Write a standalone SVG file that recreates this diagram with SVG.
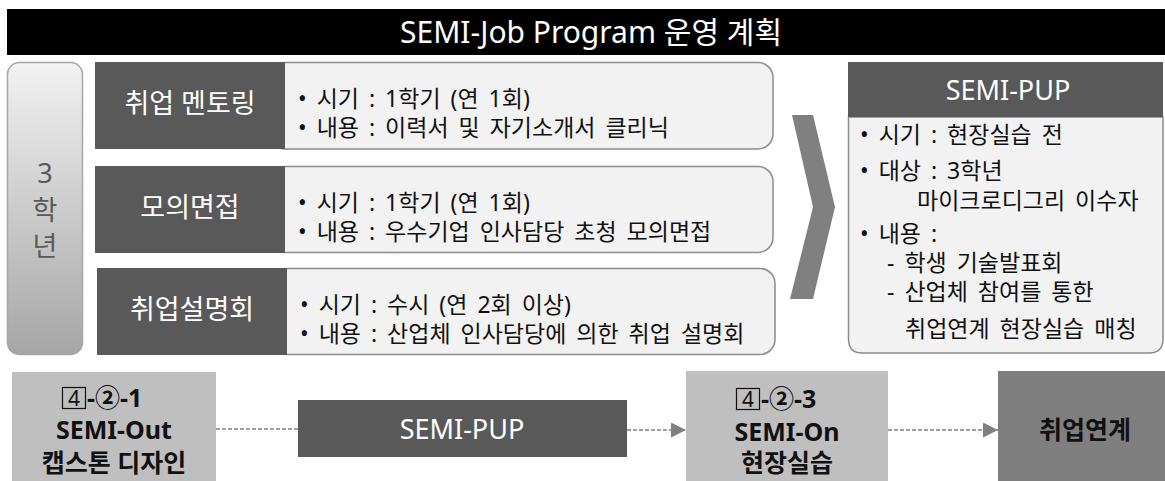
<svg xmlns="http://www.w3.org/2000/svg" width="1165" height="481" viewBox="0 0 1165 481">
<defs>
<linearGradient id="gradL" x1="0" y1="0" x2="0" y2="1">
<stop offset="0" stop-color="#f2f2f2"/>
<stop offset="1" stop-color="#a6a6a6"/>
</linearGradient>
<marker id="arr" viewBox="0 0 10 10" refX="10" refY="5" markerWidth="15" markerHeight="15" markerUnits="userSpaceOnUse" orient="auto">
<path d="M0,0 L10,5 L0,10 Z" fill="#808080"/>
</marker>
</defs>
<style>
text{font-family:"Noto Sans","Noto Sans CJK KR",sans-serif;}
.title{fill:#fff;font-size:30px;text-anchor:middle;}
.lab{fill:#fff;font-size:27px;text-anchor:middle;}
.body{fill:#111;font-size:23px;word-spacing:4px;}
.dark{fill:#595959;}
.light{fill:#f2f2f2;stroke:#8c8c8c;stroke-width:1.5;}
.gbox{fill:#bfbfbf;}
.btxt{fill:#111;font-size:25px;font-weight:bold;text-anchor:middle;}
.conn{stroke:#808080;stroke-width:1.5;stroke-dasharray:4 2;fill:none;}
</style>
<g id="title">
<rect x="7" y="9" width="1158" height="46" fill="#000"/>
<text class="title" x="591" y="43">SEMI-Job Program  운영 계획</text>
</g>
<g id="year">
<rect x="7.5" y="62.5" width="75" height="292" rx="12" fill="url(#gradL)" stroke="#a6a6a6" stroke-width="1.5"/>
<text x="45" y="183" font-size="27" fill="#595959" text-anchor="middle">3</text>
<text x="45" y="220" font-size="27" fill="#595959" text-anchor="middle">학</text>
<text x="45" y="256" font-size="27" fill="#595959" text-anchor="middle">년</text>
</g>
<g id="row1">
<rect class="light" x="270" y="62.5" width="503" height="86.5" rx="15"/>
<rect class="dark" x="95" y="62" width="190" height="87"/>
<text class="lab" x="190" y="113">취업 멘토링</text>
<text class="body" x="298" y="107">• 시기 : 1학기 (연 1회)</text>
<text class="body" x="298" y="136">• 내용 : 이력서 및 자기소개서 클리닉</text>
</g>
<g id="row2">
<rect class="light" x="270" y="166.5" width="503" height="86" rx="15"/>
<rect class="dark" x="95" y="166" width="190" height="87"/>
<text class="lab" x="190" y="217">모의면접</text>
<text class="body" x="298" y="211">• 시기 : 1학기 (연 1회)</text>
<text class="body" x="298" y="240">• 내용 : 우수기업 인사담당 초청 모의면접</text>
</g>
<g id="row3">
<rect class="light" x="272" y="268.5" width="503" height="86" rx="15"/>
<rect class="dark" x="97" y="268" width="190" height="87"/>
<text class="lab" x="192" y="319">취업설명회</text>
<text class="body" x="300" y="313">• 시기 : 수시 (연 2회 이상)</text>
<text class="body" x="300" y="342">• 내용 : 산업체 인사담당에 의한 취업 설명회</text>
</g>
<g id="chevron">
<path d="M792,115 L813,115 L835,207 L813,299 L790,299 L813,207 Z" fill="#808080"/>
</g>
<g id="semipup">
<path class="light" d="M848.5,117 L1163,117 L1163,339 Q1163,353 1149,353 L862,353 Q848.5,353 848.5,339 Z"/>
<rect class="dark" x="848" y="62" width="315" height="55"/>
<text class="lab" x="1008" y="100" font-size="30">SEMI-PUP</text>
<text class="body" x="860" y="143">• 시기 : 현장실습 전</text>
<text class="body" x="860" y="179">• 대상 : 3학년</text>
<text class="body" x="917" y="209">마이크로디그리 이수자</text>
<text class="body" x="860" y="242">• 내용 :</text>
<text class="body" x="887" y="271">- 학생 기술발표회</text>
<text class="body" x="887" y="300">- 산업체 참여를 통한</text>
<text class="body" x="905" y="337">취업연계 현장실습 매칭</text>
</g>
<g id="semiout">
<rect class="gbox" x="12" y="372" width="204" height="109"/>
<rect x="62.5" y="387.5" width="23" height="21" fill="none" stroke="#111" stroke-width="1.2"/>
<text x="74" y="406" font-size="21" fill="#111" text-anchor="middle">4</text>
<text x="87" y="407" font-size="25" font-weight="bold" fill="#111">-②-1</text>
<text class="btxt" x="114" y="439">SEMI-Out</text>
<text class="btxt" x="114" y="472">캡스톤 디자인</text>
</g>
<g id="semipup2">
<rect class="dark" x="298" y="400" width="329" height="57"/>
<text class="lab" x="462" y="439">SEMI-PUP</text>
</g>
<g id="semion">
<rect class="gbox" x="686" y="371" width="202" height="110"/>
<rect x="736.5" y="388.5" width="23" height="21" fill="none" stroke="#111" stroke-width="1.2"/>
<text x="748" y="407" font-size="21" fill="#111" text-anchor="middle">4</text>
<text x="761" y="408" font-size="25" font-weight="bold" fill="#111">-②-3</text>
<text class="btxt" x="787" y="441">SEMI-On</text>
<text class="btxt" x="787" y="472">현장실습</text>
</g>
<g id="job">
<rect x="998" y="371" width="167" height="110" fill="#7f7f7f"/>
<text class="btxt" x="1085" y="439">취업연계</text>
</g>
<g id="connectors">
<line class="conn" x1="216" y1="429" x2="298" y2="429"/>
<line class="conn" x1="627" y1="430" x2="686" y2="430" marker-end="url(#arr)"/>
<line class="conn" x1="888" y1="430" x2="998" y2="430" marker-end="url(#arr)"/>
</g>
</svg>
